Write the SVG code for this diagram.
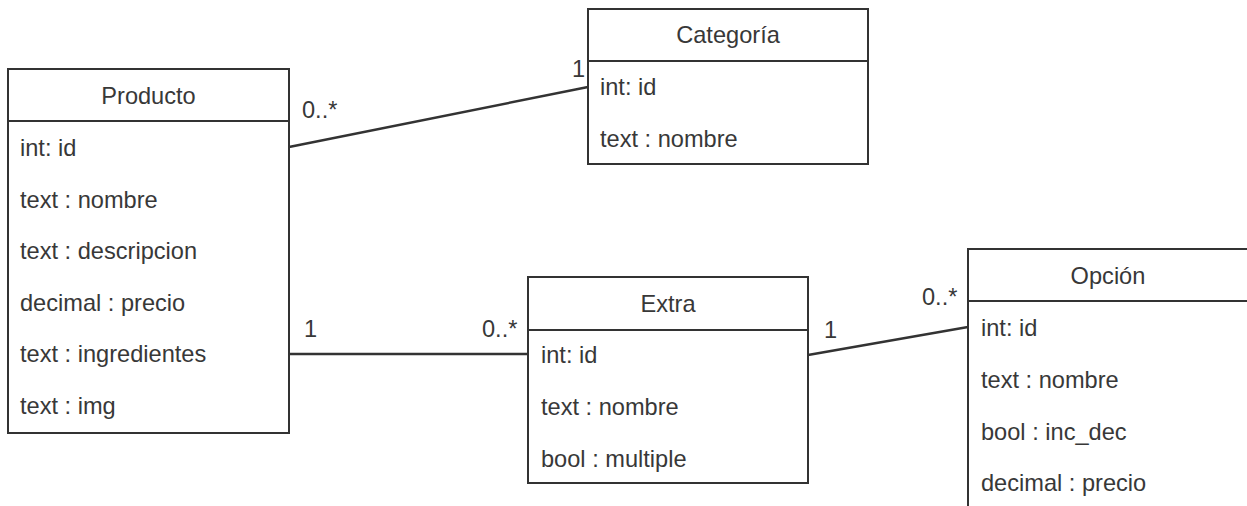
<svg xmlns="http://www.w3.org/2000/svg" width="1247" height="506" viewBox="0 0 1247 506">
  <style>
    .box { fill: #ffffff; stroke: #333333; stroke-width: 2; }
    .div { stroke: #333333; stroke-width: 2; }
    .t { font-family: "Liberation Sans", Arial, sans-serif; font-size: 23.6px; fill: #383838; }
    .h { text-anchor: middle; }
    .edge { stroke: #333333; stroke-width: 2.5; fill: none; }
  </style>
  <rect width="1247" height="506" fill="#ffffff"/>

  <!-- associations -->
  <g id="connectors">
    <line class="edge" x1="289" y1="147" x2="588" y2="87"/>
    <line class="edge" x1="289" y1="354" x2="528" y2="354"/>
    <line class="edge" x1="808" y1="355" x2="968" y2="327"/>
    <text class="t" x="302" y="118">0..*</text>
    <text class="t" x="572" y="77">1</text>
    <text class="t" x="304" y="337">1</text>
    <text class="t" x="482" y="337">0..*</text>
    <text class="t" x="824" y="338">1</text>
    <text class="t" x="922" y="305">0..*</text>
  </g>

  <g id="producto">
    <rect class="box" x="8" y="69" width="281" height="364"/>
    <line class="div" x1="8" y1="121" x2="289" y2="121"/>
    <text class="t h" x="148.5" y="104">Producto</text>
    <text class="t" x="20" y="156">int: id</text>
    <text class="t" x="20" y="207.5">text : nombre</text>
    <text class="t" x="20" y="259">text : descripcion</text>
    <text class="t" x="20" y="310.5">decimal : precio</text>
    <text class="t" x="20" y="362">text : ingredientes</text>
    <text class="t" x="20" y="413.5">text : img</text>
  </g>

  <g id="categoria">
    <rect class="box" x="588" y="9" width="280" height="155"/>
    <line class="div" x1="588" y1="61" x2="868" y2="61"/>
    <text class="t h" x="728" y="43">Categoría</text>
    <text class="t" x="600" y="95">int: id</text>
    <text class="t" x="600" y="147">text : nombre</text>
  </g>

  <g id="extra">
    <rect class="box" x="528" y="277" width="280" height="206"/>
    <line class="div" x1="528" y1="330" x2="808" y2="330"/>
    <text class="t h" x="668" y="312">Extra</text>
    <text class="t" x="541" y="363">int: id</text>
    <text class="t" x="541" y="415">text : nombre</text>
    <text class="t" x="541" y="467">bool : multiple</text>
  </g>

  <g id="opcion">
    <rect class="box" x="968" y="249" width="280" height="280"/>
    <line class="div" x1="968" y1="301" x2="1248" y2="301"/>
    <text class="t h" x="1108" y="284">Opción</text>
    <text class="t" x="981" y="336">int: id</text>
    <text class="t" x="981" y="388">text : nombre</text>
    <text class="t" x="981" y="440">bool : inc_dec</text>
    <text class="t" x="981" y="491">decimal : precio</text>
  </g>
</svg>
